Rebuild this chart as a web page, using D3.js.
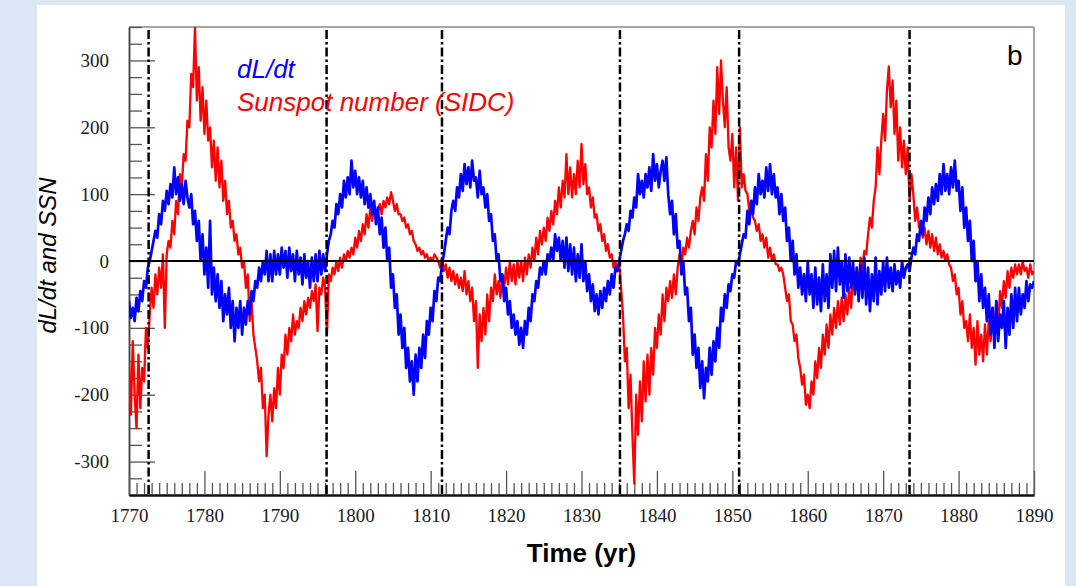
<!DOCTYPE html>
<html><head><meta charset="utf-8">
<script src="https://cdn.jsdelivr.net/npm/d3@7"></script>
<style>body{margin:0;background:#dce7f5;} svg{display:block}</style>
</head><body><svg id="c" width="1076" height="586"></svg>
<script>
const startYear = 1770, stepYear = 0.25;
// dL/dt (blue), quarterly samples 1770.00 ... 1890.00
const dLdt = [
-60,-85,-70,-90, -55,-75,-45,-60, -30,-40,-10,0, 15,30,45,35, 70,55,90,75,
105,85,115,95, 140,100,125,90, 115,85,120,95, 80,100,55,75, 30,60,0,40,
-20,20,-40,60, -50,-10,-60,-20, -70,-30,-90,-50, -80,-40,-100,-60, -120,-70,-100,-60,
-110,-70,-95,-60, -80,-45,-60,-30, -40,-10,-30,0, -20,15,-30,10, -30,15,-20,10,
-20,20,-10,15, -25,20,-15,10, -30,15,-20,5, -35,10,-25,0, -40,5,-30,10,
-30,15,-20,10, -15,10,30,40, 60,50,85,70, 100,80,120,95, 125,100,150,110,
135,100,125,95, 120,85,110,80, 100,70,90,55, 80,40,65,20, 50,0,20,-40,
-20,-70,-50,-110, -80,-130,-100,-160, -130,-180,-150,-200, -140,-180,-130,-160, -110,-145,-90,-110,
-70,-90,-45,-60, -25,-30,-5,10, 30,50,40,75, 90,75,110,95, 130,105,145,115,
140,110,150,120, 125,95,135,100, 110,80,100,60, 70,30,40,0, 10,-30,-20,-60,
-40,-80,-60,-100, -80,-110,-90,-125, -100,-130,-90,-110, -70,-90,-50,-60, -30,-40,-10,-20,
0,-20,10,0, 20,0,40,15, 35,0,30,-10, 35,-15,25,-20, 20,-30,10,-25,
25,-30,0,-45, -20,-60,-35,-75, -50,-80,-45,-70, -40,-60,-30,-50, -20,-40,-10,-15,
0,15,30,40, 55,45,75,65, 95,80,130,100, 120,95,130,110, 140,105,160,120,
145,110,135,150, 120,155,100,70, 90,40,70,20, 30,-20,0,-50, -40,-90,-70,-140,
-110,-160,-130,-190, -150,-205,-160,-180, -130,-170,-120,-150, -100,-130,-70,-90, -50,-70,-35,-45,
-20,-25,0,-5, 10,25,40,35, 75,55,90,70, 110,85,130,100, 120,95,140,105,
145,100,130,95, 110,70,100,60, 80,30,50,0, 30,-20,10,-40, -10,-50,-20,-60,
0,-50,-20,-70, -10,-65,-25,-75, -5,-60,-20,-70, 10,-40,15,-45, 20,-35,0,-55,
10,-45,5,-40, 0,-50,-10,-60, -5,-55,5,-65, -10,-75,-20,-60, 5,-65,-15,-50,
0,-45,5,-40, -10,-45,-5,-35, -15,-40,0,-25, -10,-5,-15,5, 20,10,40,30,
60,40,80,60, 95,70,110,85, 115,90,130,100, 145,105,130,100, 140,110,150,105,
120,75,110,50, 80,30,60,0, 30,-30,0,-60, -20,-70,-40,-90, -50,-110,-70,-130,
-60,-120,-80,-100, -60,-130,-70,-110, -50,-100,-40,-90, -40,-80,-50,-70, -30,-60,-35,-40,
-30
];
// Sunspot number with alternating sign (red), quarterly samples 1770.00 ... 1890.00
const ssn = [
-150,-230,-120,-200, -250,-140,-220,-160, -180,-100,-130,-80, -40,-70,-20,-50, -10,-40,10,-100,
10,30,20,60, 40,90,70,130, 110,160,150,210, 200,280,260,350, 240,290,210,260,
190,240,180,200, 140,180,120,170, 110,150,90,120, 70,90,50,60, 30,40,10,20,
-10,0,-40,-20, -90,-60,-110,-130, -150,-180,-160,-220, -200,-292,-230,-200, -240,-190,-220,-160,
-200,-140,-160,-110, -140,-100,-120,-80, -110,-90,-100,-70, -90,-60,-80,-55, -70,-45,-60,-35,
-105,-40,-50,-25, -40,-110,-20,-30, -10,-20,0,-15, 5,-10,10,0, 15,5,20,10,
35,20,45,30, 55,40,70,50, 80,60,85,70, 75,85,70,90, 80,95,85,103,
90,75,85,70, 70,60,65,50, 55,40,45,30, 25,15,20,10, 15,5,10,0,
5,0,10,5, 0,-10,5,-15, -5,-25,-10,-30, -15,-35,-20,-40, -25,-45,-15,-50,
-30,-60,-40,-90, -60,-160,-80,-120, -70,-110,-50,-90, -40,-60,-20,-50, -30,-55,-20,-40,
-10,-35,0,-30, -5,-35,0,-25, 0,-30,5,-20, 10,-10,20,0, 35,10,45,25,
50,30,65,45, 75,55,90,70, 110,80,120,95, 160,100,140,95, 130,100,150,110,
175,115,145,100, 110,80,95,65, 70,45,55,30, 40,15,25,5, 10,-10,0,-15,
-5,-40,-80,-150, -130,-220,-170,-260, -333,-200,-260,-180, -240,-150,-210,-140, -200,-130,-170,-100,
-130,-80,-110,-50, -90,-40,-60,-30, -55,-20,-50,-10, 10,-10,20,10, 35,20,45,60,
40,80,60,95, 110,90,160,120, 200,170,240,190, 290,220,300,240, 200,260,170,150,
190,110,170,90, 200,110,130,105, 100,75,90,65, 60,45,55,30, 40,20,35,5,
20,0,10,-5, -5,-15,-10,-20, -40,-60,-50,-90, -95,-120,-110,-145, -160,-185,-170,-215,
-200,-220,-180,-200, -150,-175,-130,-160, -110,-140,-95,-130, -80,-110,-70,-100, -60,-95,-55,-90,
-50,-80,-40,-70, -20,-45,-15,-30, 5,-10,15,10, 40,65,50,90, 110,170,130,180,
220,180,255,291, 230,270,190,240, 150,200,140,180, 130,170,90,130, 100,60,80,50,
55,35,50,25, 45,20,40,15, 35,10,25,5, 15,0,10,-5, -10,-30,-20,-50,
-40,-80,-60,-100, -90,-120,-80,-130, -100,-155,-90,-140, -110,-150,-95,-140, -90,-120,-70,-110,
-60,-100,-45,-70, -30,-55,-15,-40, -10,-25,-5,-20, -5,-20,0,-15, -10,-25,-5,-20,
-15
];
const reversalYears = [1772.6, 1796.2, 1811.5, 1835.1, 1850.9, 1873.5];
const xTickYears = d3.range(1770, 1891, 10);
const xMinorYears = d3.range(1770, 1891, 1);
const yMajor = [-300, -200, -100, 0, 100, 200, 300];
const yMinor = d3.range(-350, 351, 25);
const legendLabels = ["dL/dt", "Sunspot number (SIDC)"];
const xTitle = "Time (yr)", yTitle = "dL/dt and SSN", panelLabel = "b";

const svg = d3.select("#c");
svg.append("rect").attr("width",1076).attr("height",586).attr("fill","#dce7f5");
svg.append("rect").attr("x",37).attr("y",5).attr("width",1028).attr("height",581).attr("fill","#fff");

const L=129, R=1034, T=27, B=495;
const x = d3.scaleLinear([1770,1890],[L,R]);
const y = d3.scaleLinear([-350,350],[B,T]);

svg.append("defs").append("clipPath").attr("id","clip")
  .append("rect").attr("x",L).attr("y",T).attr("width",R-L).attr("height",B-T);

// frame top/right
svg.append("line").attr("x1",L).attr("x2",R).attr("y1",T).attr("y2",T).attr("stroke","#888").attr("stroke-width",1.5);
svg.append("line").attr("x1",R).attr("x2",R).attr("y1",T).attr("y2",B).attr("stroke","#888").attr("stroke-width",1.5);

const serif = "'Liberation Serif','Times New Roman',serif";
const plain = d => String(d);
// Y axis
const gy = svg.append("g").attr("transform",`translate(${L},0)`);
gy.call(d3.axisLeft(y).tickValues(yMinor.filter(v=>!yMajor.includes(v))).tickSizeInner(-13).tickSizeOuter(0).tickFormat(""));
const gy2 = svg.append("g").attr("transform",`translate(${L},0)`);
gy2.call(d3.axisLeft(y).tickValues(yMajor).tickSizeInner(-26).tickSizeOuter(0).tickPadding(20).tickFormat(plain));
[gy,gy2].forEach(g=>{g.select(".domain").attr("stroke","#444").attr("stroke-width",1.5);
  g.selectAll(".tick line").attr("stroke","#555").attr("stroke-width",1.3);
  g.selectAll(".tick text").attr("font-family",serif).attr("font-size",19).attr("fill","#1a1a1a");});

// X axis
const gx = svg.append("g").attr("transform",`translate(0,${B})`);
gx.call(d3.axisBottom(x).tickValues(xMinorYears.filter(v=>v%10!==0)).tickSizeInner(-12).tickSizeOuter(0).tickFormat(""));
const gx2 = svg.append("g").attr("transform",`translate(0,${B})`);
gx2.call(d3.axisBottom(x).tickValues(xTickYears).tickSizeInner(-24).tickSizeOuter(0).tickPadding(14).tickFormat(plain));
[gx,gx2].forEach(g=>{g.select(".domain").attr("stroke","#111").attr("stroke-width",2);
  g.selectAll(".tick line").attr("stroke","#555").attr("stroke-width",1.3);
  g.selectAll(".tick text").attr("font-family",serif).attr("font-size",19).attr("fill","#1a1a1a");});

const plot = svg.append("g").attr("clip-path","url(#clip)");
const pts = arr => arr.map((v,i)=>[startYear+i*stepYear, v]);
const line = d3.line().x(d=>x(d[0])).y(d=>y(d[1]));

plot.append("path").datum(pts(ssn)).attr("d",line).attr("fill","none").attr("stroke","#ff0000").attr("stroke-width",2.3).attr("stroke-linejoin","round");
plot.append("path").datum(pts(dLdt)).attr("d",line).attr("fill","none").attr("stroke","#0000ff").attr("stroke-width",2.7).attr("stroke-linejoin","round");

// zero line
svg.append("line").attr("x1",L).attr("x2",R).attr("y1",y(0)).attr("y2",y(0)).attr("stroke","#000").attr("stroke-width",2);

// reversal lines
svg.selectAll("line.rev").data(reversalYears).join("line").attr("class","rev")
  .attr("x1",d=>x(d)).attr("x2",d=>x(d)).attr("y1",T+3).attr("y2",B)
  .attr("stroke","#000").attr("stroke-width",2.5).attr("stroke-dasharray","9,3,2.5,3");

// legend
const sans = "'Liberation Sans',Arial,sans-serif";
svg.append("text").attr("x",237).attr("y",78).attr("font-family",sans).attr("font-style","italic").attr("font-size",26).attr("fill","#0000ff").text(legendLabels[0]);
svg.append("text").attr("x",237).attr("y",111).attr("font-family",sans).attr("font-style","italic").attr("font-size",26).attr("fill","#ff0000").text(legendLabels[1]);
svg.append("text").attr("x",1007).attr("y",65).attr("font-family",sans).attr("font-size",28).attr("fill","#000").text(panelLabel);

// titles
svg.append("text").attr("x",(L+R)/2).attr("y",562).attr("text-anchor","middle").attr("font-family",sans).attr("font-weight","bold").attr("font-size",26).attr("fill","#000").text(xTitle);
svg.append("text").attr("transform",`translate(56,${(173+338)/2}) rotate(-90)`).attr("text-anchor","middle").attr("font-family",sans).attr("font-style","italic").attr("font-size",24).attr("fill","#000").text(yTitle);
</script></body></html>
